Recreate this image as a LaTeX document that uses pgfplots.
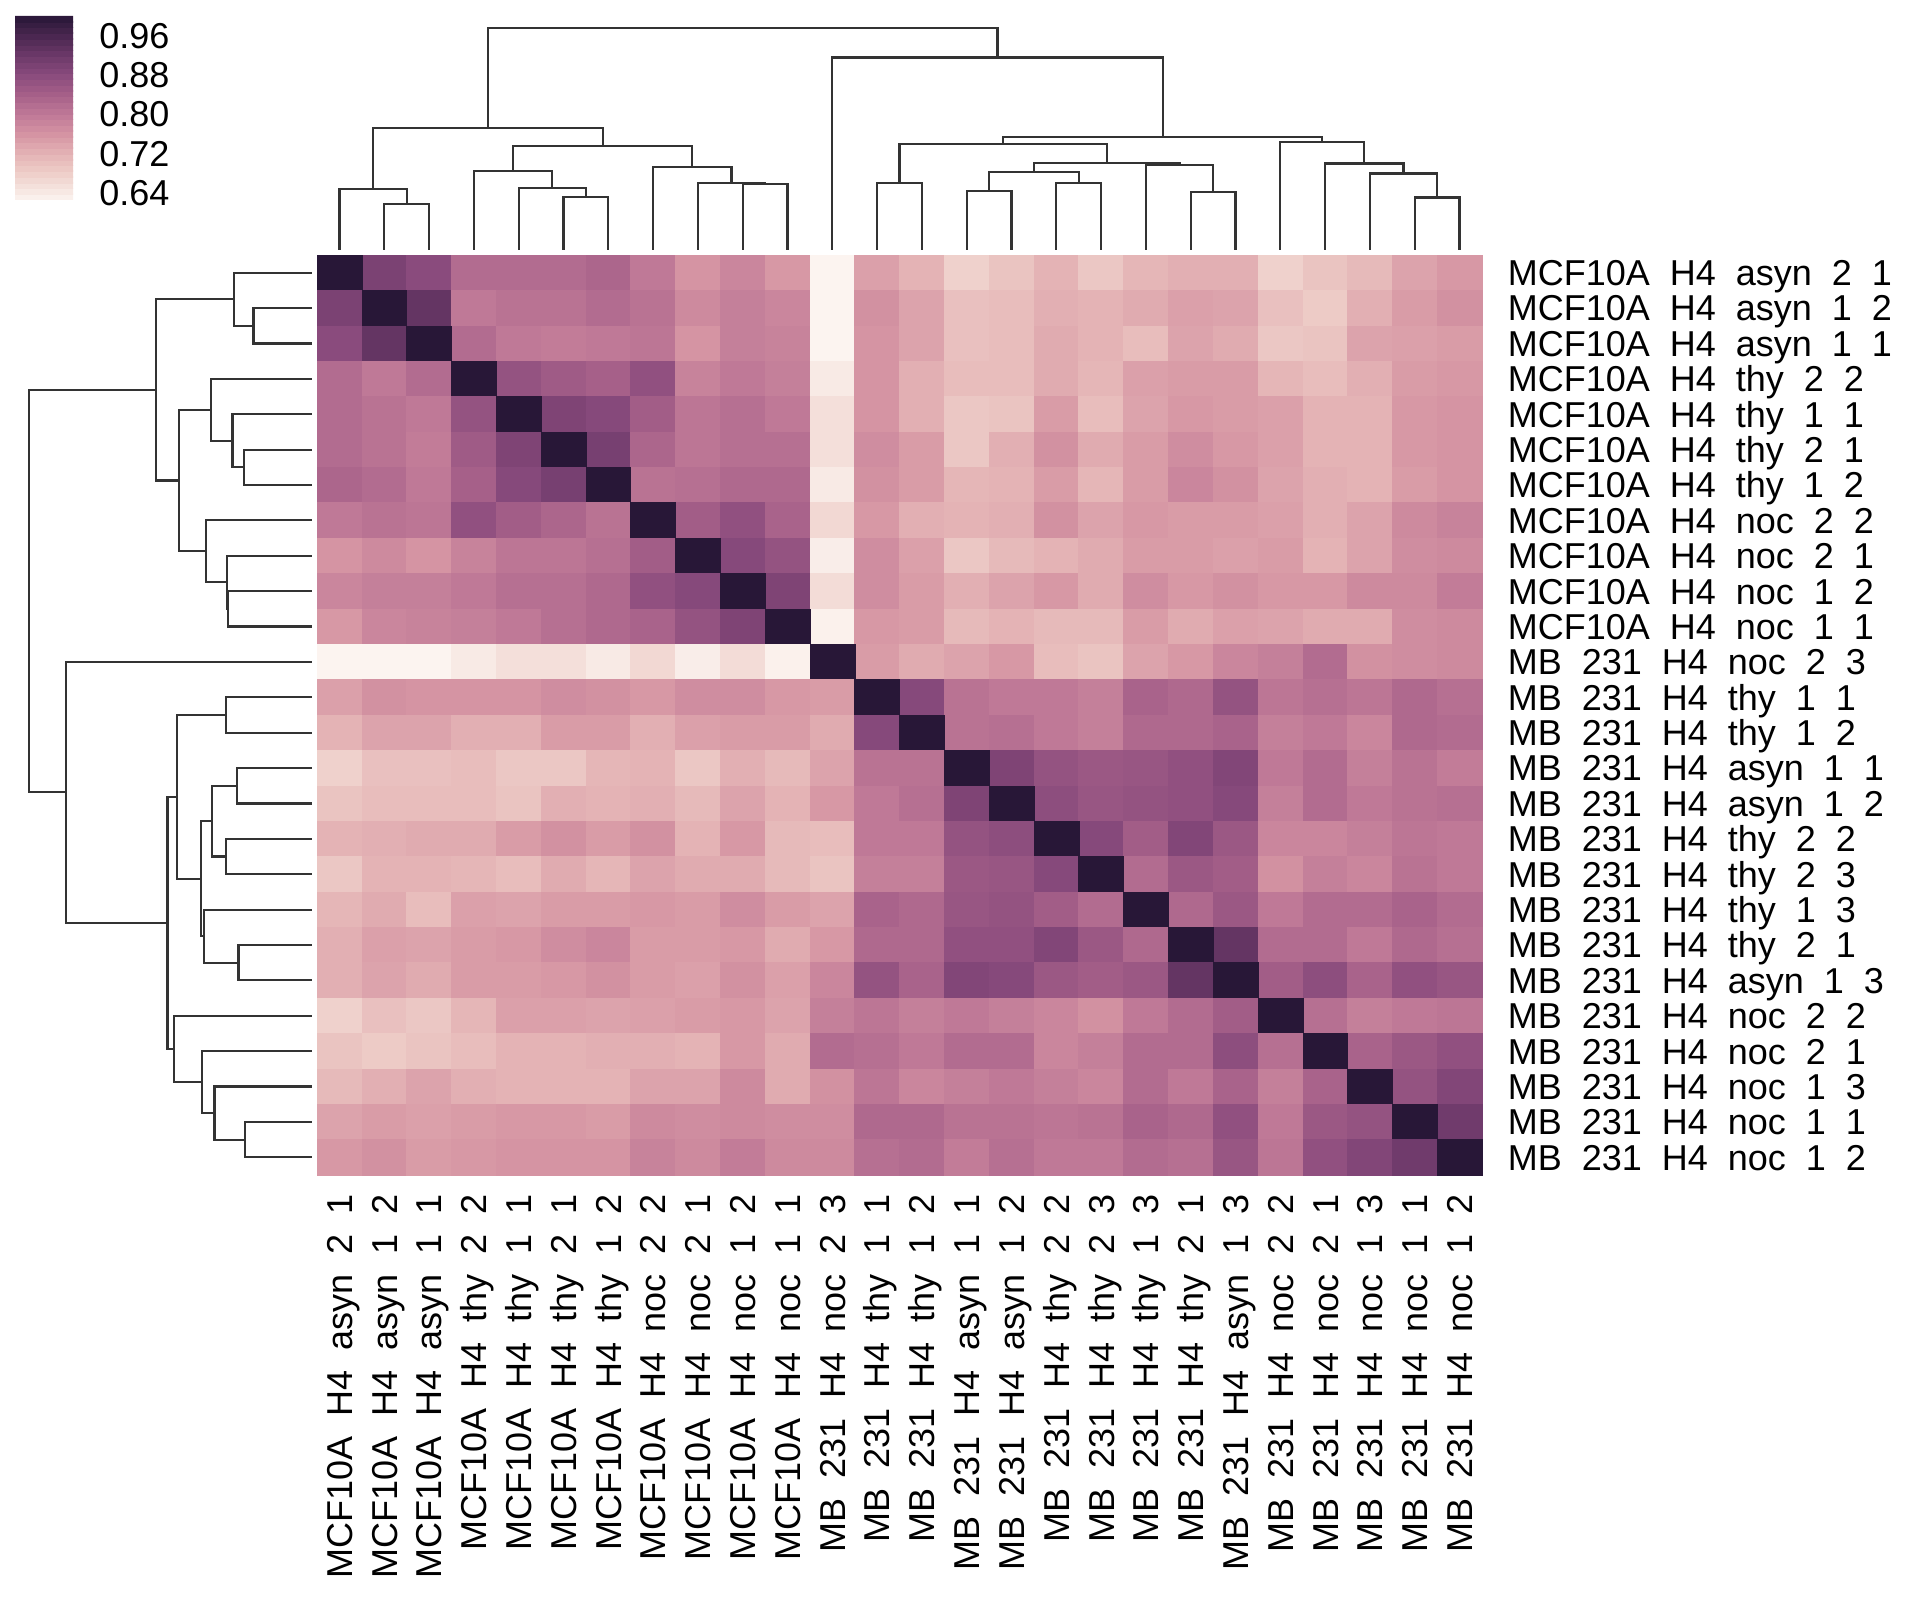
\documentclass[border=0pt]{standalone}
\usepackage{pgfplots}
\pgfplotsset{compat=1.18}
\usepackage{pgfplotstable}
\usepackage{fontspec}
\setmainfont{Liberation Sans}
\newcommand{\g}{\hspace{0.556em}}
\newcommand{\lM}[3]{MCF10A\g H4\g #1\g #2\g #3}
\newcommand{\lB}[3]{MB\g 231\g H4\g #1\g #2\g #3}
\newcommand{\lf}{\fontsize{9}{10}\selectfont}

% upper triangle (incl. diagonal) of the correlation matrix, i = row, j = column
\pgfplotstableread[row sep=\\]{
i j v\\
0 0 1\\ 0 1 0.90\\ 0 2 0.88\\ 0 3 0.82\\ 0 4 0.82\\ 0 5 0.82\\ 0 6 0.83\\ 0 7 0.80\\ 0 8 0.76\\ 0 9 0.78\\ 0 10 0.755\\ 0 11 0.625\\ 0 12 0.745\\ 0 13 0.72\\ 0 14 0.675\\ 0 15 0.695\\ 0 16 0.72\\ 0 17 0.69\\ 0 18 0.715\\ 0 19 0.725\\ 0 20 0.725\\ 0 21 0.675\\ 0 22 0.695\\ 0 23 0.71\\ 0 24 0.74\\ 0 25 0.755\\
1 1 1\\ 1 2 0.93\\ 1 3 0.80\\ 1 4 0.81\\ 1 5 0.81\\ 1 6 0.82\\ 1 7 0.81\\ 1 8 0.775\\ 1 9 0.79\\ 1 10 0.78\\ 1 11 0.625\\ 1 12 0.765\\ 1 13 0.74\\ 1 14 0.70\\ 1 15 0.705\\ 1 16 0.725\\ 1 17 0.72\\ 1 18 0.73\\ 1 19 0.745\\ 1 20 0.74\\ 1 21 0.70\\ 1 22 0.685\\ 1 23 0.725\\ 1 24 0.75\\ 1 25 0.765\\
2 2 1\\ 2 3 0.82\\ 2 4 0.80\\ 2 5 0.795\\ 2 6 0.80\\ 2 7 0.805\\ 2 8 0.76\\ 2 9 0.79\\ 2 10 0.785\\ 2 11 0.625\\ 2 12 0.76\\ 2 13 0.74\\ 2 14 0.70\\ 2 15 0.705\\ 2 16 0.73\\ 2 17 0.72\\ 2 18 0.705\\ 2 19 0.74\\ 2 20 0.73\\ 2 21 0.69\\ 2 22 0.695\\ 2 23 0.74\\ 2 24 0.745\\ 2 25 0.75\\
3 3 1\\ 3 4 0.865\\ 3 5 0.85\\ 3 6 0.84\\ 3 7 0.87\\ 3 8 0.785\\ 3 9 0.80\\ 3 10 0.79\\ 3 11 0.64\\ 3 12 0.76\\ 3 13 0.725\\ 3 14 0.705\\ 3 15 0.705\\ 3 16 0.73\\ 3 17 0.715\\ 3 18 0.745\\ 3 19 0.75\\ 3 20 0.75\\ 3 21 0.715\\ 3 22 0.705\\ 3 23 0.725\\ 3 24 0.75\\ 3 25 0.755\\
4 4 1\\ 4 5 0.895\\ 4 6 0.885\\ 4 7 0.845\\ 4 8 0.805\\ 4 9 0.815\\ 4 10 0.80\\ 4 11 0.655\\ 4 12 0.76\\ 4 13 0.725\\ 4 14 0.69\\ 4 15 0.695\\ 4 16 0.75\\ 4 17 0.705\\ 4 18 0.74\\ 4 19 0.755\\ 4 20 0.75\\ 4 21 0.745\\ 4 22 0.72\\ 4 23 0.72\\ 4 24 0.755\\ 4 25 0.76\\
5 5 1\\ 5 6 0.905\\ 5 7 0.83\\ 5 8 0.805\\ 5 9 0.815\\ 5 10 0.815\\ 5 11 0.655\\ 5 12 0.77\\ 5 13 0.75\\ 5 14 0.69\\ 5 15 0.725\\ 5 16 0.765\\ 5 17 0.73\\ 5 18 0.75\\ 5 19 0.77\\ 5 20 0.755\\ 5 21 0.745\\ 5 22 0.72\\ 5 23 0.72\\ 5 24 0.755\\ 5 25 0.76\\
6 6 1\\ 6 7 0.81\\ 6 8 0.815\\ 6 9 0.825\\ 6 10 0.825\\ 6 11 0.64\\ 6 12 0.765\\ 6 13 0.75\\ 6 14 0.715\\ 6 15 0.72\\ 6 16 0.75\\ 6 17 0.715\\ 6 18 0.75\\ 6 19 0.78\\ 6 20 0.765\\ 6 21 0.74\\ 6 22 0.725\\ 6 23 0.72\\ 6 24 0.75\\ 6 25 0.76\\
7 7 1\\ 7 8 0.845\\ 7 9 0.87\\ 7 10 0.835\\ 7 11 0.665\\ 7 12 0.755\\ 7 13 0.725\\ 7 14 0.72\\ 7 15 0.725\\ 7 16 0.765\\ 7 17 0.74\\ 7 18 0.755\\ 7 19 0.75\\ 7 20 0.75\\ 7 21 0.745\\ 7 22 0.725\\ 7 23 0.74\\ 7 24 0.775\\ 7 25 0.785\\
8 8 1\\ 8 9 0.885\\ 8 10 0.865\\ 8 11 0.635\\ 8 12 0.77\\ 8 13 0.745\\ 8 14 0.69\\ 8 15 0.71\\ 8 16 0.72\\ 8 17 0.73\\ 8 18 0.75\\ 8 19 0.75\\ 8 20 0.745\\ 8 21 0.75\\ 8 22 0.72\\ 8 23 0.74\\ 8 24 0.77\\ 8 25 0.775\\
9 9 1\\ 9 10 0.895\\ 9 11 0.66\\ 9 12 0.77\\ 9 13 0.75\\ 9 14 0.725\\ 9 15 0.74\\ 9 16 0.755\\ 9 17 0.73\\ 9 18 0.77\\ 9 19 0.755\\ 9 20 0.765\\ 9 21 0.755\\ 9 22 0.755\\ 9 23 0.775\\ 9 24 0.775\\ 9 25 0.795\\
10 10 1\\ 10 11 0.63\\ 10 12 0.755\\ 10 13 0.75\\ 10 14 0.71\\ 10 15 0.72\\ 10 16 0.71\\ 10 17 0.71\\ 10 18 0.75\\ 10 19 0.73\\ 10 20 0.745\\ 10 21 0.74\\ 10 22 0.73\\ 10 23 0.73\\ 10 24 0.77\\ 10 25 0.775\\
11 11 1\\ 11 12 0.75\\ 11 13 0.73\\ 11 14 0.74\\ 11 15 0.755\\ 11 16 0.705\\ 11 17 0.695\\ 11 18 0.74\\ 11 19 0.755\\ 11 20 0.78\\ 11 21 0.79\\ 11 22 0.82\\ 11 23 0.765\\ 11 24 0.77\\ 11 25 0.775\\
12 12 1\\ 12 13 0.885\\ 12 14 0.81\\ 12 15 0.80\\ 12 16 0.80\\ 12 17 0.79\\ 12 18 0.835\\ 12 19 0.825\\ 12 20 0.865\\ 12 21 0.805\\ 12 22 0.815\\ 12 23 0.805\\ 12 24 0.825\\ 12 25 0.815\\
13 13 1\\ 13 14 0.81\\ 13 15 0.815\\ 13 16 0.80\\ 13 17 0.79\\ 13 18 0.825\\ 13 19 0.825\\ 13 20 0.835\\ 13 21 0.79\\ 13 22 0.80\\ 13 23 0.78\\ 13 24 0.825\\ 13 25 0.82\\
14 14 1\\ 14 15 0.895\\ 14 16 0.865\\ 14 17 0.855\\ 14 18 0.86\\ 14 19 0.87\\ 14 20 0.89\\ 14 21 0.80\\ 14 22 0.82\\ 14 23 0.79\\ 14 24 0.81\\ 14 25 0.795\\
15 15 1\\ 15 16 0.875\\ 15 17 0.86\\ 15 18 0.865\\ 15 19 0.87\\ 15 20 0.885\\ 15 21 0.79\\ 15 22 0.82\\ 15 23 0.80\\ 15 24 0.81\\ 15 25 0.815\\
16 16 1\\ 16 17 0.885\\ 16 18 0.845\\ 16 19 0.89\\ 16 20 0.855\\ 16 21 0.78\\ 16 22 0.78\\ 16 23 0.79\\ 16 24 0.805\\ 16 25 0.80\\
17 17 1\\ 17 18 0.82\\ 17 19 0.855\\ 17 20 0.845\\ 17 21 0.765\\ 17 22 0.79\\ 17 23 0.78\\ 17 24 0.81\\ 17 25 0.80\\
18 18 1\\ 18 19 0.825\\ 18 20 0.855\\ 18 21 0.80\\ 18 22 0.82\\ 18 23 0.82\\ 18 24 0.835\\ 18 25 0.82\\
19 19 1\\ 19 20 0.93\\ 19 21 0.82\\ 19 22 0.82\\ 19 23 0.80\\ 19 24 0.825\\ 19 25 0.815\\
20 20 1\\ 20 21 0.845\\ 20 22 0.875\\ 20 23 0.835\\ 20 24 0.87\\ 20 25 0.86\\
21 21 1\\ 21 22 0.815\\ 21 23 0.79\\ 21 24 0.80\\ 21 25 0.805\\
22 22 1\\ 22 23 0.835\\ 22 24 0.855\\ 22 25 0.87\\
23 23 1\\ 23 24 0.865\\ 23 25 0.89\\
24 24 1\\ 24 25 0.915\\
25 25 1\\
}\upper

% dendrogram links: leaf position p, link height h (nan separates links)
\pgfplotstableread[row sep=\\]{
p h\\
1 0\\ 1 0.207\\ 2 0.207\\ 2 0\\ nan nan\\
0 0\\ 0 0.275\\ 1.5 0.275\\ 1.5 0.207\\ nan nan\\
5 0\\ 5 0.240\\ 6 0.240\\ 6 0\\ nan nan\\
4 0\\ 4 0.281\\ 5.5 0.281\\ 5.5 0.240\\ nan nan\\
3 0\\ 3 0.358\\ 4.75 0.358\\ 4.75 0.281\\ nan nan\\
9 0\\ 9 0.298\\ 10 0.298\\ 10 0\\ nan nan\\
8 0\\ 8 0.301\\ 9.5 0.301\\ 9.5 0.298\\ nan nan\\
7 0\\ 7 0.376\\ 8.75 0.376\\ 8.75 0.301\\ nan nan\\
3.875 0.358\\ 3.875 0.470\\ 7.875 0.470\\ 7.875 0.376\\ nan nan\\
0.75 0.275\\ 0.75 0.552\\ 5.875 0.552\\ 5.875 0.470\\ nan nan\\
12 0\\ 12 0.304\\ 13 0.304\\ 13 0\\ nan nan\\
14 0\\ 14 0.266\\ 15 0.266\\ 15 0\\ nan nan\\
16 0\\ 16 0.304\\ 17 0.304\\ 17 0\\ nan nan\\
14.5 0.266\\ 14.5 0.353\\ 16.5 0.353\\ 16.5 0.304\\ nan nan\\
19 0\\ 19 0.26\\ 20 0.26\\ 20 0\\ nan nan\\
18 0\\ 18 0.383\\ 19.5 0.383\\ 19.5 0.26\\ nan nan\\
15.5 0.353\\ 15.5 0.394\\ 18.75 0.394\\ 18.75 0.383\\ nan nan\\
12.5 0.304\\ 12.5 0.478\\ 17.125 0.478\\ 17.125 0.394\\ nan nan\\
24 0\\ 24 0.237\\ 25 0.237\\ 25 0\\ nan nan\\
23 0\\ 23 0.345\\ 24.5 0.345\\ 24.5 0.237\\ nan nan\\
22 0\\ 22 0.39\\ 23.75 0.39\\ 23.75 0.345\\ nan nan\\
21 0\\ 21 0.488\\ 22.875 0.488\\ 22.875 0.39\\ nan nan\\
14.8125 0.478\\ 14.8125 0.511\\ 21.9375 0.511\\ 21.9375 0.488\\ nan nan\\
11 0\\ 11 0.869\\ 18.375 0.869\\ 18.375 0.511\\ nan nan\\
3.3125 0.552\\ 3.3125 1\\ 14.6875 1\\ 14.6875 0.869\\
}\dend

\begin{document}
\begin{tikzpicture}
\useasboundingbox (0,0) rectangle (480pt,401pt);
\coordinate (cb) at (-4.785pt,397pt);

% heatmap
\begin{axis}[
  at={(79.25pt,107.25pt)}, anchor=south west,
  width=291.25pt, height=230pt, scale only axis,
  xmin=-0.5, xmax=25.5, ymin=-25.5, ymax=0.5,
  axis line style={draw=none}, major tick length=0pt, tick style={draw=none},
  colormap={seab}{
    rgb255(0cm)=(252,244,240);
    rgb255(1.5cm)=(248,234,229);
    rgb255(5.5cm)=(238,206,201);
    rgb255(9.5cm)=(228,179,181);
    rgb255(13.5cm)=(213,148,163);
    rgb255(17.5cm)=(191,121,151);
    rgb255(21.5cm)=(166,96,137);
    rgb255(25.5cm)=(138,75,125);
    rgb255(29.5cm)=(108,57,105);
    rgb255(33.5cm)=(74,39,80);
    rgb255(37.5cm)=(40,23,55)},
  point meta min=0.625, point meta max=1,
  xtick={0,...,25}, ytick={0,-1,...,-25},
  xticklabels={{\lM{asyn}{2}{1}},{\lM{asyn}{1}{2}},{\lM{asyn}{1}{1}},{\lM{thy}{2}{2}},{\lM{thy}{1}{1}},{\lM{thy}{2}{1}},{\lM{thy}{1}{2}},{\lM{noc}{2}{2}},{\lM{noc}{2}{1}},{\lM{noc}{1}{2}},{\lM{noc}{1}{1}},{\lB{noc}{2}{3}},{\lB{thy}{1}{1}},{\lB{thy}{1}{2}},{\lB{asyn}{1}{1}},{\lB{asyn}{1}{2}},{\lB{thy}{2}{2}},{\lB{thy}{2}{3}},{\lB{thy}{1}{3}},{\lB{thy}{2}{1}},{\lB{asyn}{1}{3}},{\lB{noc}{2}{2}},{\lB{noc}{2}{1}},{\lB{noc}{1}{3}},{\lB{noc}{1}{1}},{\lB{noc}{1}{2}}},
  yticklabels={{\lM{asyn}{2}{1}},{\lM{asyn}{1}{2}},{\lM{asyn}{1}{1}},{\lM{thy}{2}{2}},{\lM{thy}{1}{1}},{\lM{thy}{2}{1}},{\lM{thy}{1}{2}},{\lM{noc}{2}{2}},{\lM{noc}{2}{1}},{\lM{noc}{1}{2}},{\lM{noc}{1}{1}},{\lB{noc}{2}{3}},{\lB{thy}{1}{1}},{\lB{thy}{1}{2}},{\lB{asyn}{1}{1}},{\lB{asyn}{1}{2}},{\lB{thy}{2}{2}},{\lB{thy}{2}{3}},{\lB{thy}{1}{3}},{\lB{thy}{2}{1}},{\lB{asyn}{1}{3}},{\lB{noc}{2}{2}},{\lB{noc}{2}{1}},{\lB{noc}{1}{3}},{\lB{noc}{1}{1}},{\lB{noc}{1}{2}}},
  yticklabel pos=right,
  xticklabel style={rotate=90, anchor=east, inner sep=0pt, text height=6.44pt, text depth=0pt, font=\lf},
  yticklabel style={anchor=west, inner sep=0pt, text height=6.44pt, text depth=0pt, font=\lf},
  xticklabel shift=4.6pt, yticklabel shift=6.25pt,
  colorbar sampled,
  colorbar style={
    at={(cb)}, anchor=north west,
    width=14.5pt, height=46pt, scale only axis,
    samples=33,
    ytick={0.64,0.72,0.80,0.88,0.96},
    axis line style={draw=none}, major tick length=0pt, tick style={draw=none},
    yticklabel style={inner sep=0pt, text height=6.44pt, text depth=0pt, font=\lf,
      /pgf/number format/fixed, /pgf/number format/fixed zerofill,
      /pgf/number format/precision=2, /pgf/number format/assume math mode=true},
    yticklabel shift=6.4pt,
  },
]
\addplot[scatter, only marks, mark=square*, mark size=4.43pt,
  mark options={xscale=1.2663, line width=0.1pt},
  scatter/use mapped color={draw=mapped color, fill=mapped color},
  point meta=explicit] table[x=j, y expr=-\thisrow{i}, meta=v] {\upper};
\addplot[scatter, only marks, mark=square*, mark size=4.43pt,
  mark options={xscale=1.2663, line width=0.1pt},
  scatter/use mapped color={draw=mapped color, fill=mapped color},
  point meta=explicit] table[x=i, y expr=-\thisrow{j}, meta=v] {\upper};
\end{axis}

% column dendrogram (top)
\begin{axis}[
  at={(79.25pt,338.5pt)}, anchor=south west,
  width=291.25pt, height=55.4pt, scale only axis,
  xmin=-0.5, xmax=25.5, ymin=0, ymax=1,
  hide axis, clip=false, unbounded coords=jump]
\addplot[black!80, line width=0.55pt, mark=none] table[x=p, y=h] {\dend};
\end{axis}

% row dendrogram (left)
\begin{axis}[
  at={(7.33pt,107.25pt)}, anchor=south west,
  width=70.67pt, height=230pt, scale only axis,
  xmin=0, xmax=1, x dir=reverse, ymin=-0.5, ymax=25.5, y dir=reverse,
  hide axis, clip=false, unbounded coords=jump]
\addplot[black!80, line width=0.55pt, mark=none] table[x=h, y=p] {\dend};
\end{axis}
\end{tikzpicture}
\end{document}
